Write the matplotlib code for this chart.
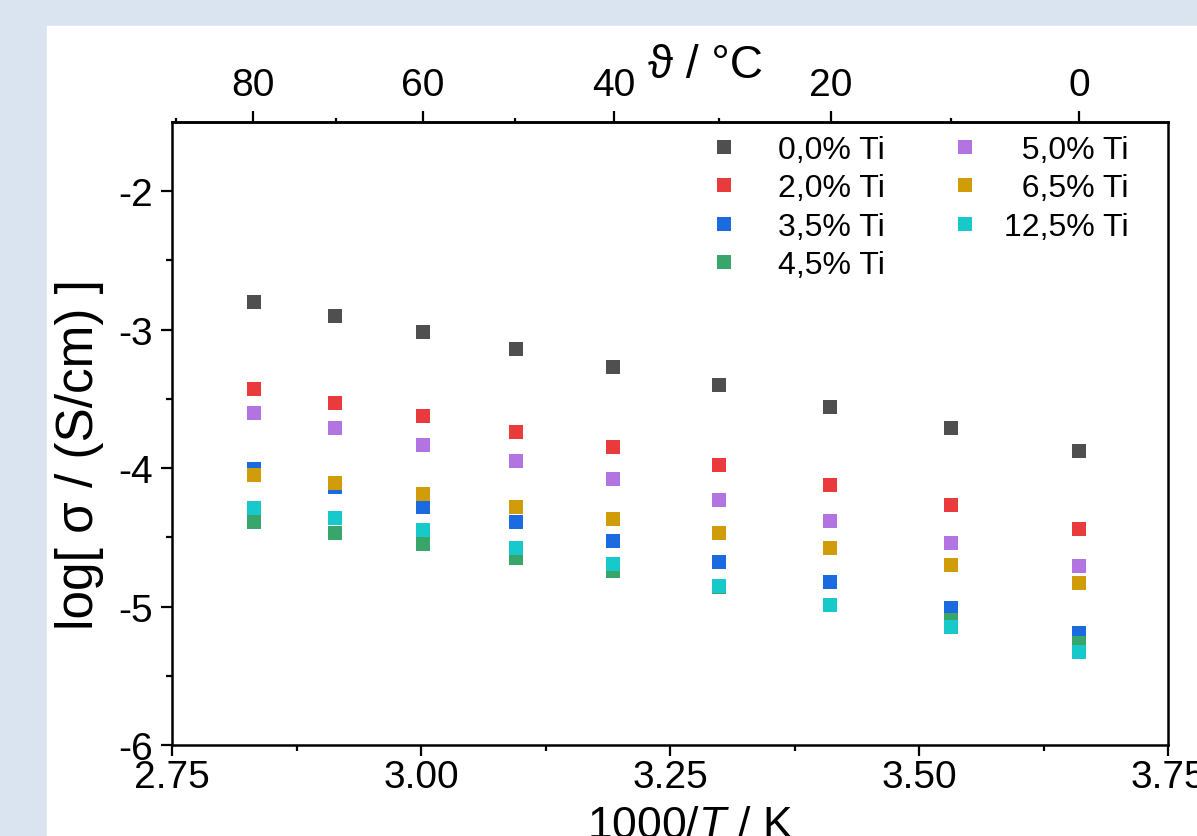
import numpy as np
import matplotlib.pyplot as plt
from matplotlib.patches import Rectangle

plt.rcParams['font.family'] = ['Liberation Sans', 'DejaVu Sans']
plt.rcParams['axes.unicode_minus'] = False
plt.rcParams['mathtext.fontset'] = 'custom'
plt.rcParams['mathtext.rm'] = 'Liberation Sans'
plt.rcParams['mathtext.it'] = 'Liberation Sans:italic'

# 1000/T for 80, 70, ..., 0 °C
inv_t = [2.832, 2.914, 3.002, 3.095, 3.193, 3.299, 3.411, 3.532, 3.661]

ti_00 = [-2.80, -2.90, -3.02, -3.14, -3.27, -3.40, -3.56, -3.71, -3.88]
ti_20 = [-3.43, -3.53, -3.62, -3.74, -3.85, -3.98, -4.12, -4.27, -4.44]
ti_35 = [-4.01, -4.14, -4.28, -4.39, -4.53, -4.68, -4.82, -5.01, -5.19]
ti_45 = [-4.39, -4.47, -4.55, -4.65, -4.74, -4.86, -4.99, -5.10, -5.26]
ti_50 = [-3.60, -3.71, -3.83, -3.95, -4.08, -4.23, -4.38, -4.54, -4.71]
ti_65 = [-4.05, -4.11, -4.19, -4.28, -4.37, -4.47, -4.58, -4.70, -4.83]
ti_125 = [-4.29, -4.36, -4.45, -4.58, -4.69, -4.85, -4.99, -5.15, -5.33]

series = [ti_00, ti_20, ti_35, ti_45, ti_50, ti_65, ti_125]
labels = ['0,0% Ti', '2,0% Ti', '3,5% Ti', '4,5% Ti',
          '\u20075,0% Ti', '\u20076,5% Ti', '12,5% Ti']
colors = ['#4f4f4f', '#ea3b3c', '#1b6ae0', '#38a66a',
          '#b274e0', '#d09c0a', '#18c9cc']

fig = plt.figure(figsize=(11.97, 8.37), dpi=100)
fig.patch.set_facecolor('#dae4f0')
fig.patches.append(Rectangle((47 / 1197, 0), 1, 1 - 27 / 837,
                             transform=fig.transFigure, color='white', zorder=-5))

ax = fig.add_axes([172 / 1197, 1 - 746 / 837, 996 / 1197, 623 / 837])
ax.set_facecolor('white')

handles = []
for y, lab, c in zip(series, labels, colors):
    h, = ax.plot(inv_t, y, 's', ls='none', color=c, ms=9.5, mew=0, label=lab)
    handles.append(h)

ax.set_xlim(2.75, 3.75)
ax.set_ylim(-6, -1.5)
ax.set_xticks([2.75, 3.00, 3.25, 3.50, 3.75])
ax.set_xticklabels(['2.75', '3.00', '3.25', '3.50', '3.75'])
ax.set_xticks(np.arange(2.875, 3.75, 0.25), minor=True)
ax.set_yticks([-6, -5, -4, -3, -2])
ax.set_yticks(np.arange(-5.5, -1.5, 1.0), minor=True)

for s in ax.spines.values():
    s.set_linewidth(1.8)
ax.tick_params(which='both', direction='out', width=1.6, labelsize=28,
               top=False, right=False)
ax.tick_params(which='major', length=8)
ax.tick_params(which='minor', length=4)
ax.tick_params(axis='y', pad=6)
ax.tick_params(axis='x', pad=2)

ax.set_ylabel('log[ σ / (S/cm) ]', fontsize=37)
ax.yaxis.set_label_coords(-0.068, 0.467)
ax.set_xlabel('1000/$T$ / K', fontsize=32, labelpad=0)
ax.xaxis.set_label_coords(0.52, -0.097)
ax.xaxis.label.set_va('top')

sec = ax.secondary_xaxis('top', functions=(lambda x: 1000 / x - 273.15,
                                           lambda t: 1000 / (t + 273.15)))
sec.set_xticks([80, 60, 40, 20, 0])
sec.set_xticklabels(['80', '60', '40', '20', '0'])
sec.set_xticks([90, 70, 50, 30, 10], minor=True)
sec.spines['top'].set_linewidth(1.8)
sec.tick_params(which='both', direction='out', width=1.6, labelsize=28, pad=6)
sec.tick_params(which='major', length=8)
sec.tick_params(which='minor', length=3)
sec.set_xlabel('ϑ / °C', fontsize=33)
sec.xaxis.set_label_coords(0.536, 1.092, transform=ax.transAxes)
sec.xaxis.label.set_va('center')

leg_kw = dict(frameon=False, fontsize=23, loc='upper left', borderpad=0,
              borderaxespad=0, handlelength=1.0, labelspacing=0.26)
leg1 = ax.legend(handles=handles[:4], bbox_to_anchor=(0.538, 0.979),
                 handletextpad=1.19, **leg_kw)
ax.add_artist(leg1)
leg2 = ax.legend(handles=handles[4:], bbox_to_anchor=(0.780, 0.979),
                 handletextpad=0.72, **leg_kw)

fig.savefig('out.png', dpi=100, facecolor=fig.get_facecolor())
